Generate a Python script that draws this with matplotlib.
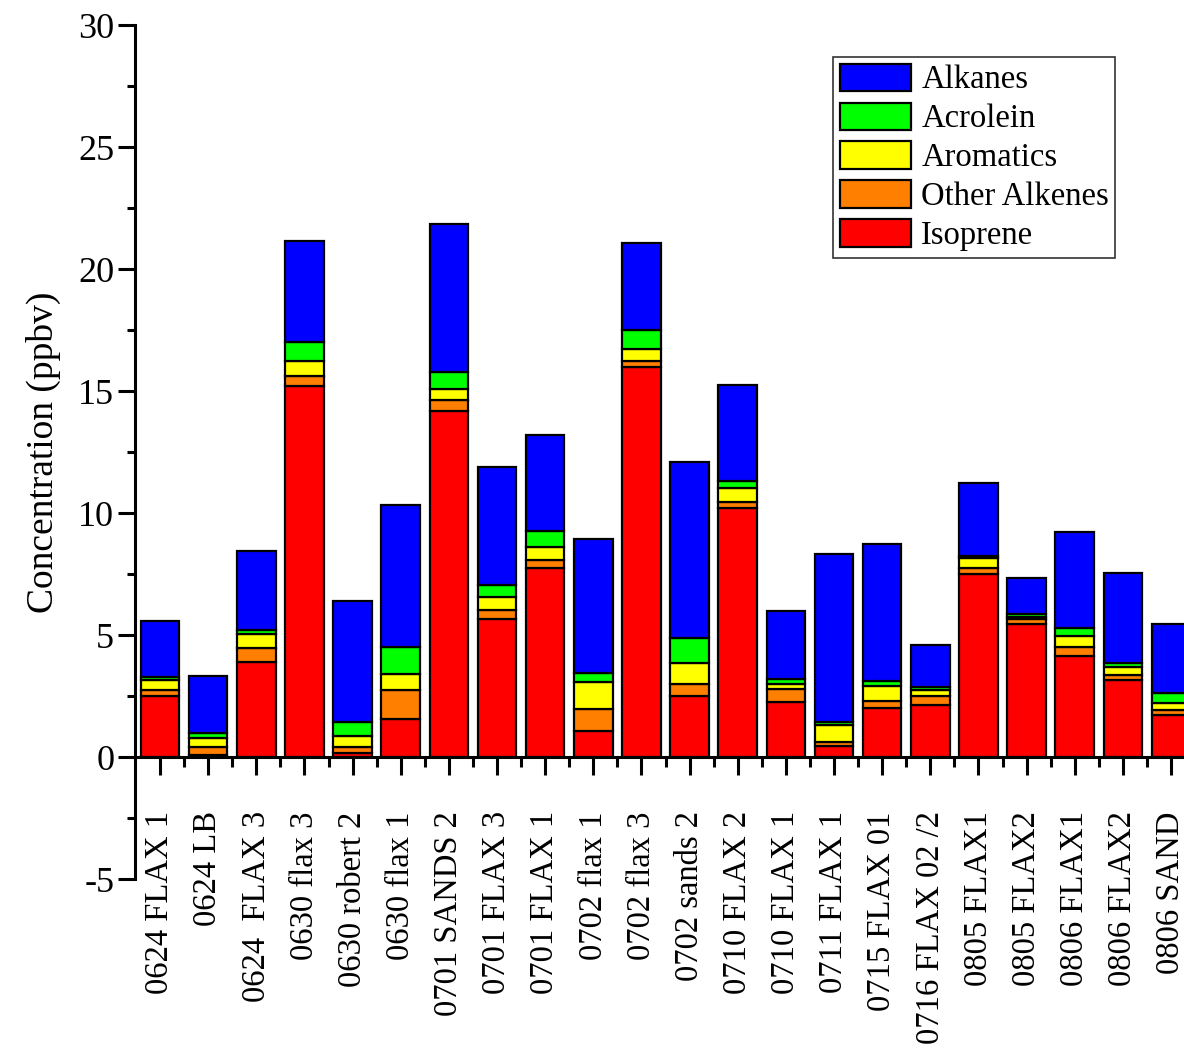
import matplotlib
matplotlib.use("Agg")
import matplotlib.pyplot as plt
import numpy as np
from matplotlib.ticker import MultipleLocator

plt.rcParams['font.family'] = ['Liberation Serif', 'DejaVu Serif']
plt.rcParams['axes.unicode_minus'] = False

labels = ['0624 FLAX 1', '0624 LB', '0624  FLAX 3', '0630 flax 3', '0630 robert 2',
          '0630 flax 1', '0701 SANDS 2', '0701 FLAX 3', '0701 FLAX 1', '0702 flax 1',
          '0702 flax 3', '0702 sands 2', '0710 FLAX 2', '0710 FLAX 1', '0711 FLAX 1',
          '0715 FLAX 01', '0716 FLAX 02 /2', '0805 FLAX1', '0805 FLAX2', '0806 FLAX1',
          '0806 FLAX2', '0806 SAND']

# stacked bottom -> top
isoprene = [2.50, 0.08, 3.88, 15.20, 0.15, 1.56, 14.20, 5.64, 7.73, 1.07, 16.00,
            2.51, 10.22, 2.25, 0.46, 2.02, 2.13, 7.50, 5.45, 4.15, 3.16, 1.72]
other_alkenes = [0.25, 0.32, 0.57, 0.41, 0.25, 1.19, 0.45, 0.40, 0.36, 0.90, 0.25,
                 0.47, 0.23, 0.52, 0.17, 0.28, 0.38, 0.26, 0.19, 0.35, 0.19, 0.21]
aromatics = [0.40, 0.38, 0.58, 0.63, 0.45, 0.65, 0.42, 0.53, 0.53, 1.12, 0.48,
             0.87, 0.56, 0.22, 0.68, 0.61, 0.24, 0.38, 0.11, 0.46, 0.35, 0.30]
acrolein = [0.14, 0.20, 0.17, 0.76, 0.60, 1.12, 0.69, 0.49, 0.63, 0.37, 0.76,
            1.04, 0.29, 0.19, 0.14, 0.22, 0.13, 0.11, 0.10, 0.31, 0.14, 0.38]
alkanes = [2.29, 2.36, 3.24, 4.16, 4.95, 5.82, 6.07, 4.83, 3.93, 5.49, 3.58,
           7.20, 3.96, 2.80, 6.86, 5.59, 1.71, 2.96, 1.47, 3.95, 3.69, 2.84]

series = [('Isoprene', isoprene, '#FF0000'),
          ('Other Alkenes', other_alkenes, '#FF8000'),
          ('Aromatics', aromatics, '#FFFF00'),
          ('Acrolein', acrolein, '#00FF00'),
          ('Alkanes', alkanes, '#0000FF')]

fig = plt.figure(figsize=(11.84, 10.52), dpi=100)
ax = fig.add_axes([135/1184, 1-879/1052, 1-135/1184, (879-25)/1052])

x = np.arange(len(labels))
bottom = np.zeros(len(labels))
handles = []
for name, vals, col in series:
    b = ax.bar(x, vals, 0.8, bottom=bottom, color=col, edgecolor='black',
               linewidth=1.6, label=name)
    handles.append(b)
    bottom += np.array(vals)

ax.set_xlim(-0.52, 21.27)
ax.set_ylim(-5, 30)

ax.spines['top'].set_visible(False)
ax.spines['right'].set_visible(False)
ax.spines['bottom'].set_position(('data', 0))
ax.spines['left'].set_linewidth(2.2)
ax.spines['bottom'].set_linewidth(2.2)

ax.yaxis.set_major_locator(MultipleLocator(5))
ax.yaxis.set_minor_locator(MultipleLocator(2.5))
ax.set_xticks(x)
ax.set_xticks(x[:-1] + 0.5, minor=True)
ax.set_xticklabels(labels, rotation=90, va='top', ha='center', fontsize=23.5)

ax.tick_params(axis='y', which='major', direction='out', length=12, width=2.2,
               labelsize=26, pad=3)
ax.tick_params(axis='y', which='minor', direction='out', length=6, width=2.2)
ax.tick_params(axis='x', which='major', direction='out', length=13, width=2.2, pad=26)
ax.tick_params(axis='x', which='minor', direction='out', length=7, width=2.2)

ax.set_ylabel('Concentration (ppbv)', fontsize=27, labelpad=12)

leg = ax.legend(handles[::-1], [s[0] for s in series][::-1],
                loc='upper left', bbox_to_anchor=(833/1184, 1-57/1052),
                bbox_transform=fig.transFigure, fontsize=23.5, frameon=True,
                fancybox=False, edgecolor='black', handlelength=2.2,
                handleheight=0.9, handletextpad=0.3, labelspacing=0.22,
                borderpad=0.2, borderaxespad=0)
leg.get_frame().set_linewidth(1.2)

fig.savefig('out.png', dpi=100)
